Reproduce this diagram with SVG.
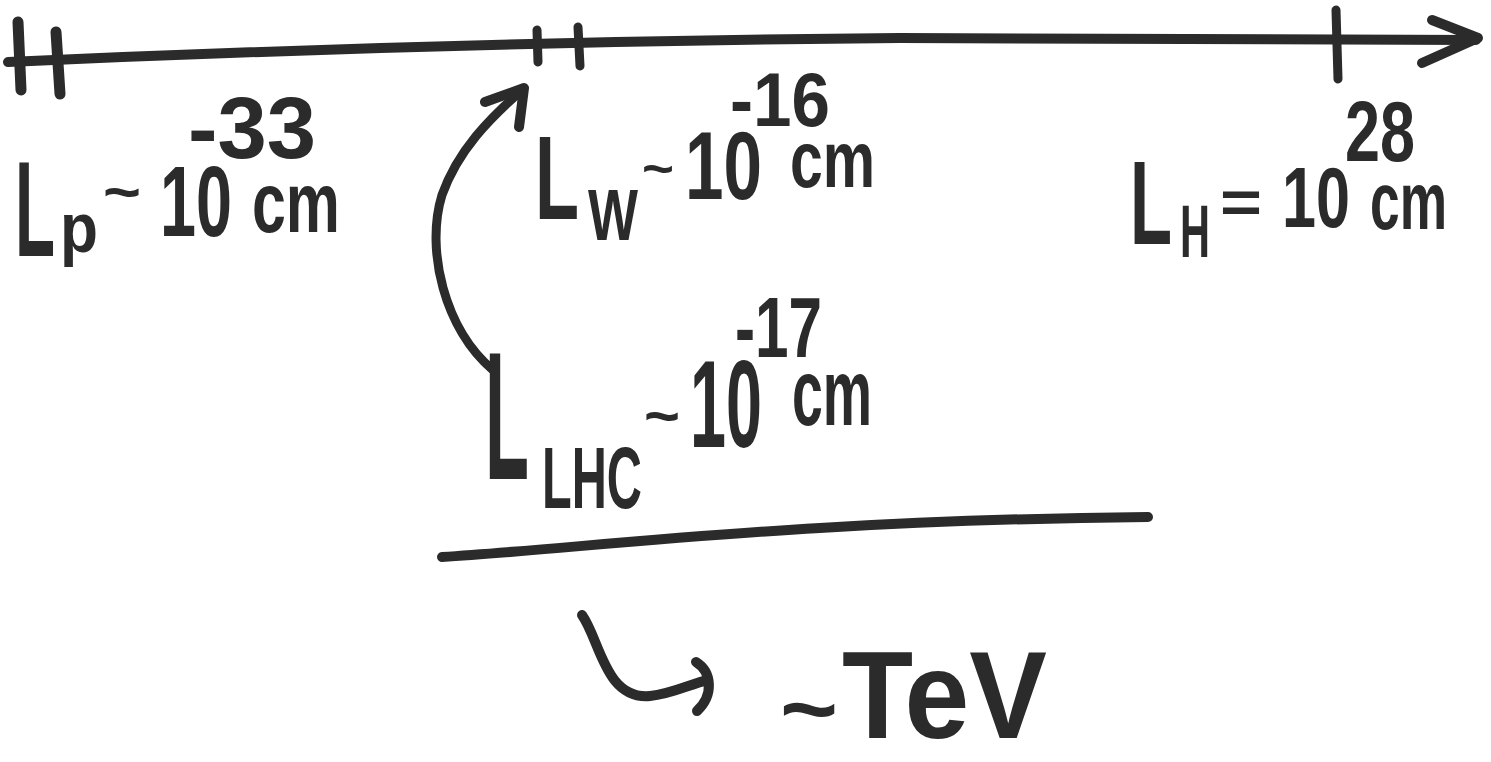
<svg xmlns="http://www.w3.org/2000/svg" width="1491" height="762" viewBox="0 0 1491 762">
<style>
.ink{fill:none;stroke:#2b2b2b;stroke-linecap:round;stroke-linejoin:round}
.t{font-family:"Liberation Sans",Arial,sans-serif;font-weight:bold;fill:#2b2b2b}
</style>
<rect width="1491" height="762" fill="#ffffff"/>
<g id="connectors">
<path class="ink" stroke-width="10" d="M8,62 Q450,42 900,38 L1476,40"/>
<polyline class="ink" stroke-width="10" points="1432,20 1478,38 1422,63"/>
<line class="ink" stroke-width="11" x1="18" y1="22" x2="21" y2="90"/>
<line class="ink" stroke-width="11" x1="56" y1="32" x2="60" y2="94"/>
<line class="ink" stroke-width="9" x1="537" y1="30" x2="538" y2="62"/>
<line class="ink" stroke-width="9" x1="578" y1="27" x2="580" y2="66"/>
<line class="ink" stroke-width="9" x1="1336" y1="10" x2="1338" y2="79"/>
<path class="ink" stroke-width="9" d="M493,370 C445,330 425,250 442,195 C458,150 490,118 522,90"/>
<polyline class="ink" stroke-width="10" points="485,102 524,88 519,127"/>
<path class="ink" stroke-width="10" d="M442,557 C600,547 800,520 1148,517"/>
<path class="ink" stroke-width="10" d="M582,615 C600,640 605,700 650,696 C672,694 690,684 708,680"/>
<path class="ink" stroke-width="10" d="M696,662 C712,672 714,695 697,711"/>
</g>
<g id="lp">
<text class="t" x="15" y="256" font-size="135" textLength="40" lengthAdjust="spacingAndGlyphs">L</text>
<text class="t" x="60" y="252" font-size="70" textLength="38" lengthAdjust="spacingAndGlyphs">p</text>
<text class="t" x="103" y="212" font-size="60" textLength="38" lengthAdjust="spacingAndGlyphs">~</text>
<text class="t" x="160" y="236" font-size="100" textLength="72" lengthAdjust="spacingAndGlyphs">10</text>
<text class="t" x="252" y="232" font-size="85" textLength="88" lengthAdjust="spacingAndGlyphs">cm</text>
<text class="t" x="188" y="158" font-size="88" textLength="128" lengthAdjust="spacingAndGlyphs">-33</text>
</g>
<g id="lw">
<text class="t" x="535" y="219" font-size="118" textLength="44" lengthAdjust="spacingAndGlyphs">L</text>
<text class="t" x="588" y="240" font-size="72" textLength="50" lengthAdjust="spacingAndGlyphs">W</text>
<text class="t" x="642" y="186" font-size="50" textLength="32" lengthAdjust="spacingAndGlyphs">~</text>
<text class="t" x="685" y="199" font-size="97" textLength="77" lengthAdjust="spacingAndGlyphs">10</text>
<text class="t" x="790" y="187" font-size="80" textLength="85" lengthAdjust="spacingAndGlyphs">cm</text>
<text class="t" x="730" y="126" font-size="76" textLength="100" lengthAdjust="spacingAndGlyphs">-16</text>
</g>
<g id="lh">
<text class="t" x="1130" y="244" font-size="118" textLength="42" lengthAdjust="spacingAndGlyphs">L</text>
<text class="t" x="1180" y="257" font-size="75" textLength="30" lengthAdjust="spacingAndGlyphs">H</text>
<text class="t" x="1220" y="222" font-size="60" textLength="42" lengthAdjust="spacingAndGlyphs">=</text>
<text class="t" x="1282" y="227" font-size="85" textLength="68" lengthAdjust="spacingAndGlyphs">10</text>
<text class="t" x="1370" y="229" font-size="82" textLength="77" lengthAdjust="spacingAndGlyphs">cm</text>
<text class="t" x="1345" y="161" font-size="85" textLength="70" lengthAdjust="spacingAndGlyphs">28</text>
</g>
<g id="lhc">
<text class="t" x="485" y="479" font-size="182" textLength="44" lengthAdjust="spacingAndGlyphs">L</text>
<text class="t" x="542" y="508" font-size="88" textLength="100" lengthAdjust="spacingAndGlyphs">LHC</text>
<text class="t" x="644" y="436" font-size="60" textLength="36" lengthAdjust="spacingAndGlyphs">~</text>
<text class="t" x="690" y="447" font-size="125" textLength="72" lengthAdjust="spacingAndGlyphs">10</text>
<text class="t" x="792" y="425" font-size="95" textLength="80" lengthAdjust="spacingAndGlyphs">cm</text>
<text class="t" x="735" y="357" font-size="86" textLength="87" lengthAdjust="spacingAndGlyphs">-17</text>
</g>
<g id="tev">
<text class="t" x="780" y="740" font-size="90" textLength="58" lengthAdjust="spacingAndGlyphs">~</text>
<text class="t" x="842" y="738" font-size="125" textLength="205" lengthAdjust="spacingAndGlyphs">TeV</text>
</g>
</svg>
